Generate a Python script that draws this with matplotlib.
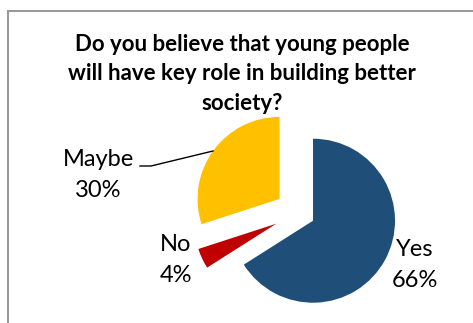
import matplotlib.pyplot as plt

labels = ["Yes", "No", "Maybe"]
shares = [66, 4, 30]
colors = ["#1F4E79", "#C00000", "#FFC000"]
# wedge offsets in pixels (pie's explode is in data units)
explode = [16, 25, 24]

W, H = 473, 323
fig = plt.figure(figsize=(W / 100, H / 100), dpi=100)
ax = fig.add_axes([0, 0, 1, 1])

# pie drawn in pixel-sized data units, y measured from the bottom
ax.pie(shares, colors=colors, explode=explode, startangle=90, counterclock=False,
       radius=82, center=(299, H - 213), wedgeprops=dict(linewidth=0))
ax.set_xlim(0, W)
ax.set_ylim(0, H)
ax.set_aspect("equal")
ax.axis("off")

# chart frame (runs off the right and bottom edges)
ax.plot([7.5, 7.5, W + 5], [-5, H - 10.5, H - 10.5], color="#9A9A9A", lw=1.5,
        solid_joinstyle="miter", clip_on=False)

font = "Lato"
ax.text(242, H - 74, "Do you believe that young people\nwill have key role in building better\nsociety?",
        ha="center", va="center", fontsize=16, fontweight="bold", family=font,
        linespacing=1.5, color="black")

lab_pos = {"Yes": (415, H - 265), "No": (176, H - 260), "Maybe": (98, H - 175)}
for lab, val in zip(labels, shares):
    x, y = lab_pos[lab]
    ax.text(x, y, f"{lab}\n{val}%", ha="center", va="center", fontsize=17,
            family=font, linespacing=1.55, color="black")

# leader line for Maybe
ax.plot([140, 151, 213], [H - 166, H - 166, H - 151], color="black", lw=1)

fig.savefig("out.png", dpi=100)
